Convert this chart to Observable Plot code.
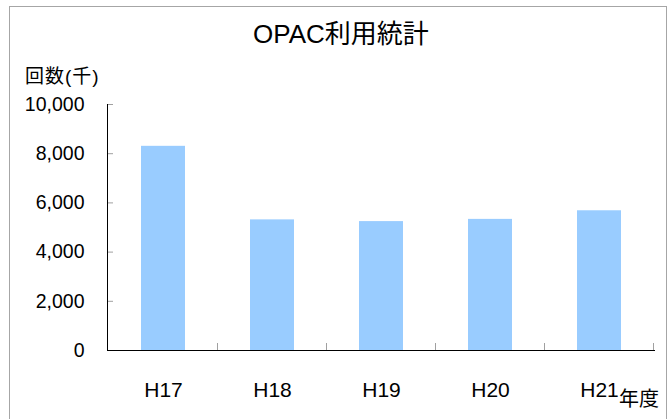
<!DOCTYPE html>
<html>
<head>
<meta charset="utf-8">
<script src="https://cdn.jsdelivr.net/npm/d3@7"></script>
<script src="https://cdn.jsdelivr.net/npm/@observablehq/plot@0.6"></script>
<style>
  html, body { margin: 0; padding: 0; background: #fff; }
  body { width: 668px; height: 419px; overflow: hidden; position: relative;
         font-family: "Liberation Sans", Arial, "Noto Sans CJK JP", sans-serif; color: #000; }
  #frame { position: absolute; left: 9px; top: 6px; width: 658px; height: 500px;
           border: 1px solid #a6a6a6; box-sizing: border-box; }
  #title { position: absolute; left: 341px; top: 21px; transform: translateX(-50%);
           font-size: 26px; line-height: 26px; white-space: nowrap; }
  #ylabel { position: absolute; left: 25px; top: 67px; font-size: 19px; line-height: 19px; white-space: nowrap; letter-spacing: 1px; }
  #xlabel { position: absolute; left: 619px; top: 389px; font-size: 20px; line-height: 20px; white-space: nowrap; }
  #chart { position: absolute; left: 0; top: 60px; }
</style>
</head>
<body>
<div id="frame"></div>
<div id="title">OPAC利用統計</div>
<div id="ylabel">回数(千)</div>
<div id="chart"></div>
<div id="xlabel">年度</div>
<script>
const years = ["H17", "H18", "H19", "H20", "H21"];
const counts = [8300, 5310, 5240, 5330, 5680];
const yTicks = [0, 2000, 4000, 6000, 8000, 10000];

const data = years.map((y, i) => ({year: y, count: counts[i]}));

function boundaryTicks(index, scales) {
  const x = scales.x, y = scales.y;
  const step = x.step(), bw = x.bandwidth();
  const g = d3.create("svg:g").attr("stroke", "#a0a0a0").attr("stroke-width", 1);
  for (const c of years) {
    const xb = x(c) + bw + (step - bw) / 2;
    g.append("line").attr("x1", xb).attr("x2", xb).attr("y1", y(0)).attr("y2", y(0) - 7);
  }
  return g.node();
}

const chart = Plot.plot({
  width: 668,
  height: 359,
  marginTop: 44,
  marginBottom: 69,
  marginLeft: 107,
  marginRight: 13,
  style: {fontFamily: '"Liberation Sans", Arial, "Noto Sans CJK JP", sans-serif', fontSize: "20px", color: "#000", background: "transparent"},
  x: {type: "band", domain: years, paddingInner: 0.6, paddingOuter: 0.3, label: null},
  y: {domain: [0, 10000], label: null},
  marks: [
    Plot.barY(data, {x: "year", y: "count", fill: "#99ccff"}),
    Plot.axisY({ticks: yTicks, tickSize: 0, tickPadding: 23, tickFormat: d3.format(","), fontSize: 19.5, label: null}),
    Plot.axisY({ticks: yTicks, tickSize: 6, dx: 6, text: null, stroke: "#a0a0a0", label: null}),
    Plot.axisX({tickSize: 0, tickPadding: 32, fontSize: 21, label: null}),
    boundaryTicks,
    Plot.frame({anchor: "left", stroke: "#000"}),
    Plot.ruleY([0], {stroke: "#000", strokeWidth: 1.2})
  ]
});
document.getElementById("chart").appendChild(chart);
</script>
</body>
</html>
